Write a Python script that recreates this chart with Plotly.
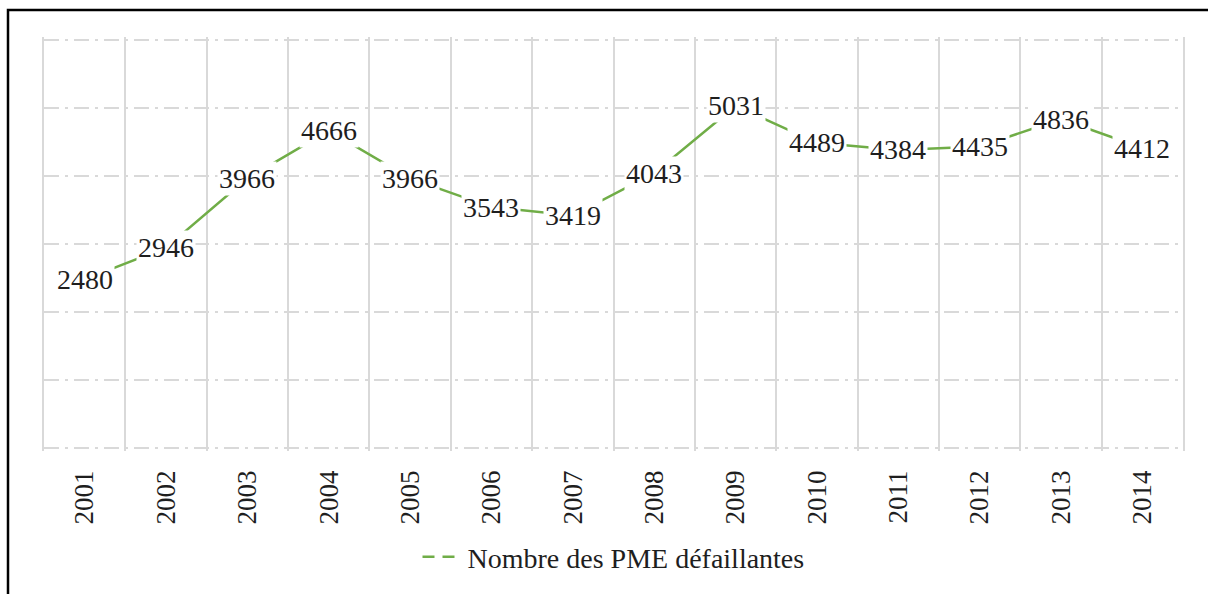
import plotly.graph_objects as go

years = ["2001", "2002", "2003", "2004", "2005", "2006", "2007",
         "2008", "2009", "2010", "2011", "2012", "2013", "2014"]
values = [2480, 2946, 3966, 4666, 3966, 3543, 3419,
          4043, 5031, 4489, 4384, 4435, 4836, 4412]
series_name = "Nombre des PME défaillantes"
y_ticks = [0, 1000, 2000, 3000, 4000, 5000, 6000]

GREEN = "#70AD47"
GRID = "#D9D9D9"
FONT = "Liberation Serif, Times New Roman, serif"

fig = go.Figure()
fig.add_trace(go.Scatter(
    x=years, y=values, mode="lines",
    line=dict(color=GREEN, width=2.5),
    showlegend=False, hoverinfo="skip",
))
# legend-only entry with dashed symbol
fig.add_trace(go.Scatter(
    x=[None], y=[None], mode="lines", name=series_name,
    line=dict(color=GREEN, width=2.5, dash="12px,8px"),
))

for i, v in enumerate(values):
    fig.add_annotation(
        x=i, y=v, xref="x", yref="y", text=str(v), showarrow=False,
        font=dict(family=FONT, size=28, color="#1e1e1e"),
        bgcolor="white", borderpad=1,
    )

fig.add_shape(type="rect", xref="paper", yref="paper",
              x0=(8 - 44) / 1139, x1=1.2, y0=-0.6, y1=(451 - 10) / 414,
              line=dict(color="black", width=2.5), fillcolor="rgba(0,0,0,0)",
              layer="above")

fig.update_layout(
    width=1208, height=594,
    margin=dict(l=44, r=25, t=37, b=143),
    paper_bgcolor="white", plot_bgcolor="white",
    font=dict(family=FONT, size=27, color="#1e1e1e"),
    legend=dict(orientation="h", x=0.5, xanchor="center",
                y=(451 - 557) / 414, yanchor="middle",
                font=dict(family=FONT, size=28, color="#1e1e1e"),
                itemwidth=40),
    xaxis=dict(
        type="category", categoryorder="array", categoryarray=years,
        range=[-0.5, len(years) - 0.5],
        tickson="boundaries", showgrid=True, gridcolor=GRID, gridwidth=2,
        tickangle=-90, ticks="", ticklabelstandoff=13,
        tickfont=dict(family=FONT, size=27, color="#1e1e1e"),
        showline=False, zeroline=False,
    ),
    yaxis=dict(
        range=[-45, 6045], tickvals=y_ticks, showticklabels=False,
        showgrid=True, gridcolor=GRID, gridwidth=1.5, griddash="longdashdot",
        zeroline=False, showline=True, mirror=True, linecolor=GRID, linewidth=2,
        ticks="",
    ),
)

fig.write_html("out.html", config={"displayModeBar": False},
               post_script="document.body.style.margin='0';document.body.style.overflow='hidden';")
